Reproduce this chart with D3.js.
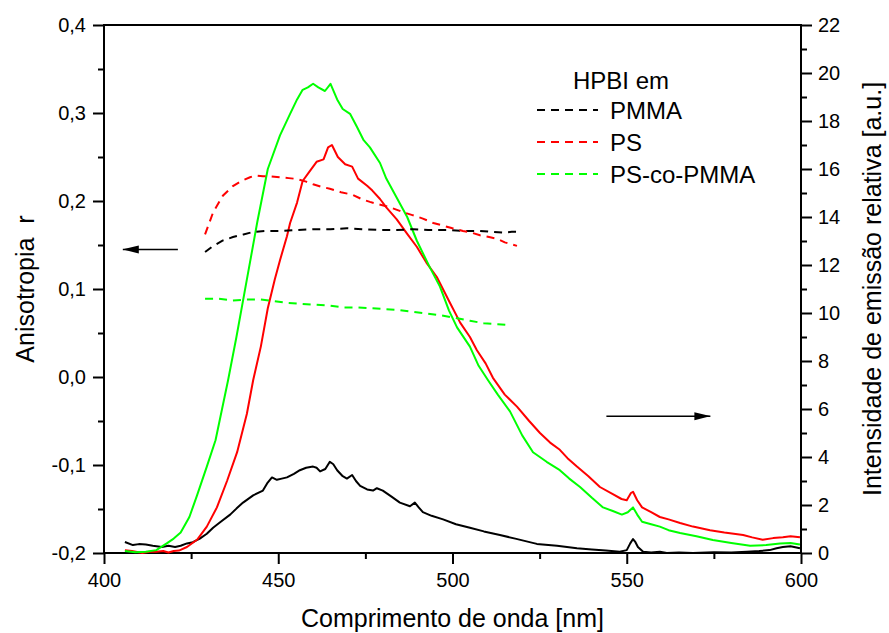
<!DOCTYPE html>
<html><head><meta charset="utf-8">
<script src="https://cdn.jsdelivr.net/npm/d3@7"></script>
<style>body{margin:0;background:#fff}text{font-family:"Liberation Sans",Arial,sans-serif;fill:#000}</style>
</head><body><svg id="c" width="889" height="633"></svg>
<script>
// ---- data ----
const xTicks = [400, 450, 500, 550, 600];
const yLeftTicks = [-0.2, -0.1, 0.0, 0.1, 0.2, 0.3, 0.4];
const yRightTicks = [0, 2, 4, 6, 8, 10, 12, 14, 16, 18, 20, 22];
const seriesNames = ["PMMA", "PS", "PS-co-PMMA"];
const seriesColors = ["#000000", "#ff0000", "#00ff00"];

// emission (right axis)
const emPMMA_x = [406,408.3,410,412,414,416.6,418.5,420.4,422,423.8,425.5,427.5,429.5,431.3,433.5,436.2,438,439.9,442.8,445.6,446.8,448.2,449.6,451,452.5,454.5,456.2,458,460,461,462,463.5,464.8,465.8,466.9,468.5,469.7,471.2,472.3,473.5,475.5,477.2,478.3,480,482.5,484.9,487.8,489.2,490.3,491.5,494,497.3,501,505,509,513.6,518,524.2,530,535.7,540,544,548,550,551,551.8,552.5,553.2,554.7,557,559.5,561.5,565,569,575,580,584.5,588,591,593,594.8,597,599.7];
const emPMMA_y = [0.46,0.33,0.37,0.35,0.3,0.25,0.3,0.25,0.3,0.4,0.45,0.6,0.8,1.05,1.3,1.6,1.85,2.1,2.4,2.6,2.9,3.15,3.05,3.1,3.15,3.3,3.45,3.55,3.6,3.55,3.4,3.5,3.8,3.7,3.45,3.2,3.1,3.25,3.0,2.8,2.65,2.6,2.7,2.6,2.35,2.1,1.95,2.1,1.9,1.7,1.55,1.4,1.2,1.05,0.9,0.75,0.6,0.38,0.3,0.2,0.15,0.1,0.05,0.12,0.4,0.58,0.45,0.25,0.05,0.02,0.05,0.0,0.02,0.0,0.03,0.02,0.05,0.08,0.12,0.2,0.25,0.28,0.2];

const emPS_x = [406,408,411,413,415,417,418.5,420,421.5,423.8,426.7,429.5,432.4,435.3,438.2,441,442.8,445,447,449,450.5,452.5,453.4,455.4,457,459,461,463,464.3,465.4,467.1,469.2,471.2,472.9,475.5,477,479.2,481,484,487,489.8,492.5,495.5,499,502.2,505,507,509.5,511.6,515,518.5,522,525.1,528,530.8,533,535.7,539,542.3,546,548.5,550,551.2,551.8,553,554.4,557,559.5,562,565.3,569,573.9,578,583.4,586,589,592,594.8,597,599.7];
const emPS_y = [0.12,0.08,0.0,0.05,0.05,0.08,0.02,0.08,0.1,0.25,0.55,1.1,1.9,3.0,4.2,5.8,7.2,8.6,10.2,11.4,12.2,13.2,13.75,14.6,15.5,15.9,16.3,16.4,16.9,17.0,16.5,16.2,16.1,15.6,15.3,15.1,14.75,14.4,13.9,13.3,12.75,12.1,11.5,10.5,9.6,9.0,8.45,7.9,7.3,6.6,6.1,5.5,5.0,4.6,4.3,3.95,3.6,3.2,2.75,2.45,2.25,2.2,2.5,2.55,2.2,1.9,1.7,1.5,1.4,1.25,1.1,0.95,0.85,0.75,0.65,0.55,0.62,0.66,0.7,0.66];

const emCo_x = [406,409,412,415,418,420,422,424.5,426.7,429.5,432,435.6,438,441,444,447,450.5,453.4,455.4,457,458.5,460,461.5,463.4,465,466.9,468.5,470.6,472.6,474.5,476.3,479.2,481,484,487,489.8,493.5,496.4,499,501.3,505,507.5,510.2,513,516.5,520,523.1,527,530.8,533.5,536.6,540,543.2,546,548.6,550.3,551.8,553,554.4,557,559.5,562,565.3,570,574.7,580,585.4,590,594,597,599.7];
const emCo_y = [0.08,0.03,0.05,0.12,0.4,0.6,0.85,1.5,2.4,3.6,4.7,7.2,9.0,11.4,13.8,16.0,17.4,18.3,18.9,19.3,19.4,19.55,19.4,19.25,19.55,18.9,18.5,18.3,17.75,17.2,16.9,16.25,15.6,14.8,14.0,13.0,11.9,11.1,10.1,9.4,8.6,7.8,7.2,6.6,5.9,4.9,4.2,3.8,3.45,3.1,2.75,2.3,1.9,1.75,1.6,1.7,1.9,1.6,1.3,1.2,1.1,0.95,0.83,0.7,0.54,0.42,0.3,0.33,0.4,0.42,0.35];

// anisotropy r (left axis)
const rPMMA_x = [429,431,434,437,440,443,446.8,451.4,455,460,465,469.7,474,479.2,484,488.7,493,498.4,503,507.9,511,514.5,517,519.4];
const rPMMA_y = [0.142,0.148,0.155,0.159,0.162,0.165,0.166,0.166,0.167,0.168,0.168,0.169,0.168,0.167,0.167,0.168,0.167,0.167,0.166,0.166,0.165,0.164,0.165,0.165];
const rPS_x = [429,431.3,434.1,437,439.5,441.9,443.5,445.6,448,450.5,453,455.4,458,460,462.5,464.8,468,471.4,474,476.3,479,482,486,488.5,491.5,494.5,497.3,500,503,505.5,507.9,510.5,512.8,515,518.5];
const rPS_y = [0.162,0.187,0.206,0.217,0.223,0.227,0.229,0.228,0.228,0.227,0.226,0.225,0.222,0.219,0.216,0.214,0.21,0.207,0.202,0.199,0.196,0.193,0.187,0.184,0.18,0.175,0.172,0.169,0.166,0.164,0.161,0.159,0.157,0.153,0.149];
const rCo_x = [429,433,437,441,445,449,453,457,461,465,469,473,477,481,485,489,493,497,501,505,509,513,516];
const rCo_y = [0.089,0.089,0.087,0.088,0.088,0.086,0.084,0.083,0.082,0.081,0.079,0.079,0.078,0.077,0.076,0.074,0.072,0.07,0.067,0.064,0.061,0.06,0.059];

// ---- chart ----
const svg = d3.select("#c");
const L = 104, R = 801, T = 25, B = 553;
const x = d3.scaleLinear().domain([400, 600]).range([L, R]);
const yL = d3.scaleLinear().domain([-0.2, 0.4]).range([B, T]);
const yR = d3.scaleLinear().domain([0, 22]).range([B, T]);
const fmtL = d => d3.format(".1f")(d).replace(".", ",").replace("−", "-");

const ax = svg.append("g");
function styleAxis(g){ g.select(".domain").remove(); g.selectAll("line").attr("stroke","#000").attr("stroke-width",2); g.selectAll("text").attr("font-size",20).attr("font-family","Liberation Sans, Arial, sans-serif").attr("fill","#000"); }

// minor ticks
ax.append("g").attr("transform",`translate(0,${B})`).call(d3.axisBottom(x).tickValues(d3.range(425,600,50)).tickSize(6).tickFormat("")).call(styleAxis);
ax.append("g").attr("transform",`translate(${L},0)`).call(d3.axisLeft(yL).tickValues(d3.range(-0.15,0.4,0.1)).tickSize(6).tickFormat("")).call(styleAxis);
ax.append("g").attr("transform",`translate(${R},0)`).call(d3.axisRight(yR).tickValues(d3.range(1,22,2)).tickSize(6).tickFormat("")).call(styleAxis);
// major ticks
ax.append("g").attr("transform",`translate(0,${B})`).call(d3.axisBottom(x).tickValues(xTicks).tickSize(11).tickPadding(9).tickFormat(d3.format("d"))).call(styleAxis);
ax.append("g").attr("transform",`translate(${L},0)`).call(d3.axisLeft(yL).tickValues(yLeftTicks).tickSize(11).tickPadding(7).tickFormat(fmtL)).call(styleAxis);
ax.append("g").attr("transform",`translate(${R},0)`).call(d3.axisRight(yR).tickValues(yRightTicks).tickSize(11).tickPadding(6).tickFormat(d3.format("d"))).call(styleAxis);

// frame
svg.append("rect").attr("x",L).attr("y",T).attr("width",R-L).attr("height",B-T).attr("fill","none").attr("stroke","#000").attr("stroke-width",2);

// curves
const plot = svg.append("g");
const lineL = d3.line().x(d=>x(d[0])).y(d=>yL(d[1]));
const lineR = d3.line().x(d=>x(d[0])).y(d=>yR(d[1]));
const zip = (a,b) => a.map((v,i)=>[v,b[i]]);
const em = [[emPMMA_x,emPMMA_y],[emPS_x,emPS_y],[emCo_x,emCo_y]];
const an = [[rPMMA_x,rPMMA_y],[rPS_x,rPS_y],[rCo_x,rCo_y]];
em.forEach((s,i)=>plot.append("path").attr("d",lineR(zip(s[0],s[1]))).attr("fill","none").attr("stroke",seriesColors[i]).attr("stroke-width",2).attr("stroke-linejoin","round"));
an.forEach((s,i)=>plot.append("path").attr("d",lineL(zip(s[0],s[1]))).attr("fill","none").attr("stroke",seriesColors[i]).attr("stroke-width",2).attr("stroke-dasharray","8,6"));

// arrows
svg.append("defs").append("marker").attr("id","ah").attr("viewBox","0 0 16 10").attr("refX",16).attr("refY",5)
  .attr("markerWidth",16).attr("markerHeight",10).attr("markerUnits","userSpaceOnUse").attr("orient","auto")
  .append("path").attr("d","M0,1 L16,5 L0,9 Z").attr("fill","#000");
svg.append("line").attr("x1",x(421.2)).attr("x2",x(405.4)).attr("y1",yL(0.145)).attr("y2",yL(0.145)).attr("stroke","#000").attr("stroke-width",1.5).attr("marker-end","url(#ah)");
svg.append("line").attr("x1",x(574)-104).attr("x2",x(574)).attr("y1",yR(5.7)).attr("y2",yR(5.7)).attr("stroke","#000").attr("stroke-width",1.5).attr("marker-end","url(#ah)");

// legend
const lg = svg.append("g");
lg.append("text").attr("x",573).attr("y",89).attr("font-size",24).text("HPBI em");
seriesNames.forEach((n,i)=>{
  const cy = 110 + i*32;
  lg.append("line").attr("x1",537).attr("x2",598).attr("y1",cy).attr("y2",cy).attr("stroke",seriesColors[i]).attr("stroke-width",2).attr("stroke-dasharray","8,6");
  lg.append("text").attr("x",610).attr("y",cy+9).attr("font-size",24).text(n);
});

// titles
svg.append("text").attr("x",(L+R)/2).attr("y",627).attr("text-anchor","middle").attr("font-size",25).text("Comprimento de onda [nm]");
svg.append("text").attr("transform",`translate(34,${(T+B)/2}) rotate(-90)`).attr("text-anchor","middle").attr("font-size",25).attr("xml:space","preserve").style("white-space","pre").text("Anisotropia  r");
svg.append("text").attr("transform",`translate(881,${(T+B)/2}) rotate(-90)`).attr("text-anchor","middle").attr("font-size",25).text("Intensidade de emissão relativa [a.u.]");
</script></body></html>
